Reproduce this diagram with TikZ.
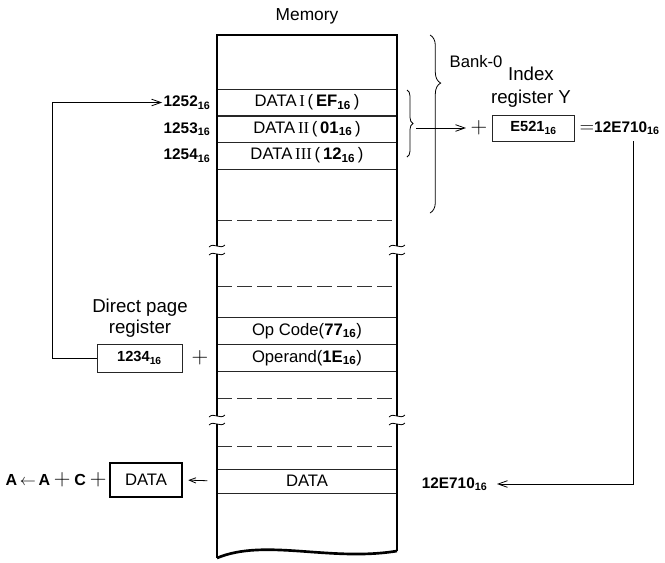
\documentclass[tikz,border=0pt]{standalone}
\usepackage{fontspec}
\setmainfont{Liberation Sans}
\newfontfamily\romfont{Liberation Serif}
\usetikzlibrary{arrows.meta,decorations.pathreplacing}
\newcommand{\hex}[1]{\textbf{#1}\textsubscript{\textbf{16}}}
\newcommand{\rnum}[1]{{\romfont #1}}
\newcommand{\fsz}[1]{\fontsize{#1}{#1}\selectfont}

\begin{document}
\begin{tikzpicture}[x=0.75pt,y=-0.75pt,
    cell/.style={draw=black!85,minimum width=135pt,minimum height=20pt,inner sep=0pt,font=\fsz{12.5}},
    reg/.style={draw=black!85,semithick,minimum width=63pt,minimum height=20pt,inner sep=0pt,font=\fsz{11}},
    addr/.style={anchor=east,inner sep=1pt,font=\fsz{11.5}},
    arr/.style={semithick,-{Straight Barb[length=7pt,width=5pt]}},
    wall/.style={line width=2pt}]
  \useasboundingbox (0,0) rectangle (665,562);
  \node[font=\fsz{13}] (mem) at (307,16) {Memory};
  % rows of memory
  \node[cell] (d1) at (307,102.5) {DATA\,\rnum{I}\,(\,\hex{EF}\,)};
  \node[cell] (d2) at (307,129) {DATA\,\rnum{II}\,(\,\hex{01}\,)};
  \node[cell] (d3) at (307,155.5) {DATA\,\rnum{III}\,(\,\hex{12}\,)};
  \node[cell,minimum height=20.25pt] (op) at (307,331) {Op Code(\hex{77})};
  \node[cell,minimum height=20.25pt] (opd) at (307,358) {Operand(\hex{1E})};
  \node[cell,minimum height=18pt] (dat) at (307,481) {DATA};
  \foreach \y in {220,286,398,446}
    \draw[black!80,dash pattern=on 11pt off 4pt] (217,\y) -- (397,\y);
  % walls, broken twice
  \foreach \x in {217,397} {
    \draw[wall] (\x,35) -- (\x,246);
    \draw[wall] (\x,254) -- (\x,416);
    \foreach \y in {246,254,416,424}
      \draw[semithick] (\x-8,\y+1) .. controls (\x-3,\y-4) and (\x+3,\y+4) .. (\x+8,\y-1);
  }
  \draw[wall] (217,424) -- (217,558);
  \draw[wall] (397,424) -- (397,551);
  \draw[wall] (216,35) -- (398,35);
  \draw[wall] (217,558) .. controls (265,538) and (330,562) .. (397,551);
  % addresses and direct page
  \node[addr] (a1) at (212,102.5) {\hex{1252}};
  \node[addr] (a2) at (212,129) {\hex{1253}};
  \node[addr] (a3) at (212,155.5) {\hex{1254}};
  \node[font=\fsz{14},align=center] (dpname) at (140,318) {Direct page\\[2pt]register};
  \node[reg,minimum width=63.75pt,minimum height=21pt] (dp) at (139.5,358) {\hex{1234}};
  \node[font=\fsz{17}] (plus1) at (200,358) {$+$};
  \coordinate (c1) at (52,102.5);
  \draw[arr] (dp.west) -| (c1) -- (a1.west);
  % bank and index register
  \draw[semithick,decorate,decoration={brace,amplitude=4.5pt}] (407,90) -- (407,157);
  \draw[semithick,decorate,decoration={brace,amplitude=8pt,aspect=0.27}] (430,35) -- (430,213);
  \coordinate (bt) at (416,128);
  \node[font=\fsz{12.5},anchor=west] (bank) at (445,62) {Bank-0};
  \node[font=\fsz{14},align=center] (iyname) at (531,87) {Index\\[3pt]register Y};
  \node[font=\fsz{17}] (plus2) at (479,128) {$+$};
  \node[reg,minimum width=62pt,minimum height=19.5pt] (iy) at (533.5,128) {\hex{E521}};
  \node[anchor=west,inner sep=1pt,font=\fsz{11.5}] (sum) at (578,128) {{\fsz{15}$=$}\hex{12E710}};
  \draw[arr] (bt) -- (plus2.west);
  \coordinate (c2) at (633,141);
  \node[addr] (ea) at (489,484) {\hex{12E710}};
  \draw[arr,shorten >=6pt] (c2) |- (ea.east);
  % result
  \node[draw,line width=1.4pt,minimum width=54pt,minimum height=25.5pt,inner sep=0pt,font=\fsz{12.5}] (res) at (146,480) {DATA};
  \node[anchor=east,inner sep=1pt,font=\fsz{12}\bfseries] (eq) at (108,480) {A\,$\leftarrow$\,A{\fsz{17}$\,+\,$}C{\fsz{17}$\,+$}};
  \draw[semithick,-{Straight Barb[length=5pt,width=4pt]},shorten <=7pt,shorten >=4pt] (dat.west) -- (res.east);
\end{tikzpicture}
\end{document}
